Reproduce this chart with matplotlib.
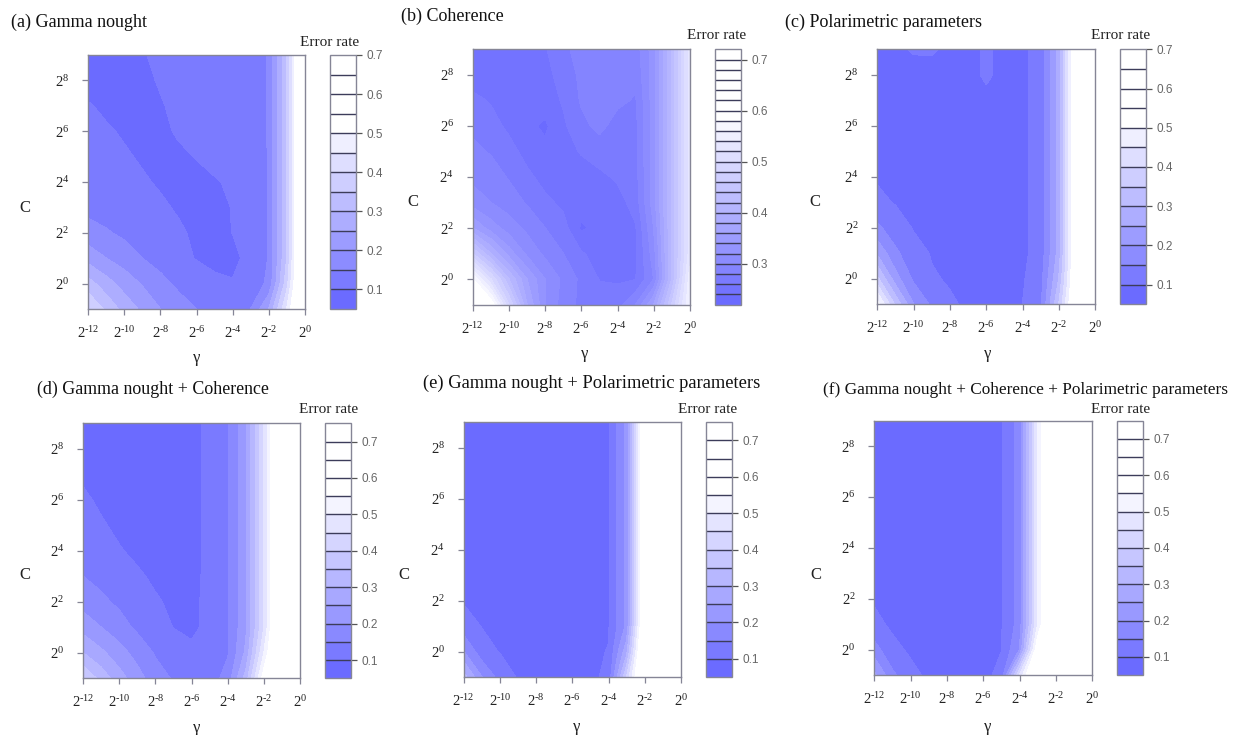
import matplotlib
matplotlib.use("Agg")
import matplotlib.pyplot as plt
import numpy as np

plt.rcParams['font.family'] = ['Liberation Serif', 'DejaVu Serif']
plt.rcParams['mathtext.fontset'] = 'custom'
plt.rcParams['mathtext.rm'] = 'Liberation Serif'
plt.rcParams['mathtext.it'] = 'Liberation Serif:italic'

# ---------------- data ----------------
gamma_exp = [-12, -11, -10, -9, -8, -7, -6, -5, -4, -3, -2, -1, 0]   # log2(gamma)
cost_exp = [-1, 0, 1, 2, 3, 4, 5, 6, 7, 8, 9]                        # log2(C)

# error rate, rows = cost_exp (bottom -> top), columns = gamma_exp
err_a = [
    [0.40, 0.34, 0.28, 0.24, 0.20, 0.17, 0.15, 0.135, 0.128, 0.15, 0.25, 0.45, 0.68],
    [0.32, 0.27, 0.23, 0.195, 0.165, 0.14, 0.12, 0.108, 0.103, 0.118, 0.16, 0.38, 0.68],
    [0.23, 0.20, 0.175, 0.15, 0.13, 0.11, 0.098, 0.09, 0.088, 0.115, 0.152, 0.35, 0.68],
    [0.17, 0.155, 0.14, 0.127, 0.115, 0.104, 0.095, 0.091, 0.1005, 0.12, 0.152, 0.35, 0.68],
    [0.135, 0.127, 0.12, 0.112, 0.104, 0.097, 0.093, 0.092, 0.101, 0.122, 0.152, 0.35, 0.68],
    [0.12, 0.116, 0.11, 0.103, 0.097, 0.094, 0.093, 0.097, 0.105, 0.125, 0.152, 0.35, 0.68],
    [0.115, 0.11, 0.103, 0.097, 0.093, 0.095, 0.101, 0.11, 0.12, 0.128, 0.152, 0.35, 0.68],
    [0.108, 0.103, 0.097, 0.092, 0.094, 0.103, 0.113, 0.12, 0.125, 0.13, 0.152, 0.35, 0.68],
    [0.102, 0.095, 0.09, 0.09, 0.097, 0.108, 0.118, 0.124, 0.127, 0.13, 0.152, 0.35, 0.68],
    [0.09, 0.088, 0.088, 0.092, 0.103, 0.115, 0.122, 0.126, 0.128, 0.132, 0.152, 0.35, 0.68],
    [0.085, 0.088, 0.092, 0.097, 0.108, 0.118, 0.125, 0.128, 0.13, 0.135, 0.152, 0.35, 0.68],
]

err_b = [
    [0.68, 0.60, 0.48, 0.38, 0.32, 0.29, 0.275, 0.27, 0.272, 0.30, 0.36, 0.46, 0.56],
    [0.58, 0.50, 0.42, 0.36, 0.32, 0.295, 0.275, 0.259, 0.257, 0.259, 0.30, 0.42, 0.55],
    [0.46, 0.40, 0.35, 0.315, 0.295, 0.28, 0.262, 0.252, 0.25, 0.256, 0.31, 0.42, 0.53],
    [0.36, 0.33, 0.31, 0.295, 0.28, 0.268, 0.236, 0.248, 0.25, 0.258, 0.32, 0.42, 0.53],
    [0.31, 0.30, 0.29, 0.278, 0.265, 0.255, 0.25, 0.248, 0.252, 0.268, 0.33, 0.42, 0.53],
    [0.295, 0.29, 0.278, 0.265, 0.252, 0.248, 0.248, 0.255, 0.263, 0.272, 0.33, 0.42, 0.53],
    [0.285, 0.278, 0.268, 0.252, 0.245, 0.25, 0.262, 0.27, 0.27, 0.274, 0.33, 0.42, 0.53],
    [0.275, 0.268, 0.255, 0.245, 0.236, 0.256, 0.275, 0.285, 0.272, 0.274, 0.33, 0.42, 0.53],
    [0.265, 0.258, 0.25, 0.248, 0.25, 0.262, 0.282, 0.29, 0.284, 0.278, 0.33, 0.42, 0.53],
    [0.25, 0.248, 0.248, 0.25, 0.255, 0.266, 0.285, 0.29, 0.288, 0.285, 0.33, 0.42, 0.53],
    [0.25, 0.25, 0.25, 0.252, 0.258, 0.275, 0.288, 0.29, 0.29, 0.29, 0.33, 0.42, 0.53],
]

err_c = [
    [0.52, 0.34, 0.20, 0.14, 0.105, 0.094, 0.09, 0.09, 0.10, 0.14, 0.35, 0.62, 0.69],
    [0.36, 0.22, 0.14, 0.104, 0.096, 0.09, 0.088, 0.088, 0.095, 0.13, 0.30, 0.60, 0.69],
    [0.24, 0.16, 0.115, 0.097, 0.09, 0.088, 0.087, 0.087, 0.09, 0.12, 0.27, 0.60, 0.69],
    [0.16, 0.12, 0.097, 0.09, 0.088, 0.087, 0.087, 0.087, 0.09, 0.12, 0.27, 0.60, 0.69],
    [0.11, 0.097, 0.09, 0.088, 0.087, 0.087, 0.087, 0.087, 0.09, 0.12, 0.27, 0.60, 0.69],
    [0.095, 0.09, 0.088, 0.087, 0.087, 0.087, 0.087, 0.087, 0.09, 0.12, 0.27, 0.60, 0.69],
    [0.09, 0.088, 0.087, 0.087, 0.087, 0.087, 0.088, 0.087, 0.09, 0.12, 0.27, 0.60, 0.69],
    [0.09, 0.088, 0.087, 0.087, 0.087, 0.087, 0.088, 0.087, 0.09, 0.12, 0.27, 0.60, 0.69],
    [0.09, 0.088, 0.087, 0.087, 0.087, 0.087, 0.09, 0.087, 0.09, 0.12, 0.27, 0.60, 0.69],
    [0.09, 0.088, 0.088, 0.088, 0.087, 0.087, 0.106, 0.088, 0.09, 0.12, 0.27, 0.60, 0.69],
    [0.09, 0.092, 0.103, 0.104, 0.092, 0.088, 0.105, 0.09, 0.09, 0.12, 0.27, 0.60, 0.69],
]

err_d = [
    [0.40, 0.33, 0.27, 0.22, 0.17, 0.145, 0.13, 0.125, 0.17, 0.32, 0.58, 0.74, 0.74],
    [0.30, 0.26, 0.22, 0.18, 0.145, 0.12, 0.104, 0.112, 0.145, 0.26, 0.50, 0.73, 0.74],
    [0.23, 0.20, 0.17, 0.14, 0.115, 0.099, 0.096, 0.105, 0.145, 0.24, 0.45, 0.72, 0.74],
    [0.18, 0.16, 0.14, 0.12, 0.103, 0.095, 0.093, 0.108, 0.145, 0.24, 0.45, 0.72, 0.74],
    [0.15, 0.135, 0.12, 0.104, 0.095, 0.092, 0.091, 0.108, 0.145, 0.24, 0.45, 0.72, 0.74],
    [0.125, 0.115, 0.102, 0.094, 0.091, 0.09, 0.09, 0.108, 0.145, 0.24, 0.45, 0.72, 0.74],
    [0.115, 0.103, 0.094, 0.091, 0.09, 0.09, 0.09, 0.108, 0.145, 0.24, 0.45, 0.72, 0.74],
    [0.105, 0.095, 0.091, 0.09, 0.09, 0.09, 0.09, 0.108, 0.145, 0.24, 0.45, 0.72, 0.74],
    [0.095, 0.09, 0.09, 0.09, 0.09, 0.09, 0.09, 0.108, 0.145, 0.24, 0.45, 0.72, 0.74],
    [0.092, 0.09, 0.09, 0.09, 0.09, 0.09, 0.09, 0.108, 0.145, 0.24, 0.45, 0.72, 0.74],
    [0.09, 0.09, 0.09, 0.09, 0.09, 0.09, 0.09, 0.108, 0.145, 0.24, 0.45, 0.72, 0.74],
]

err_e = [
    [0.32, 0.20, 0.13, 0.095, 0.088, 0.087, 0.087, 0.09, 0.11, 0.40, 0.72, 0.74, 0.74],
    [0.20, 0.12, 0.097, 0.09, 0.087, 0.087, 0.087, 0.09, 0.102, 0.28, 0.70, 0.74, 0.74],
    [0.12, 0.098, 0.09, 0.088, 0.087, 0.087, 0.087, 0.088, 0.095, 0.21, 0.66, 0.74, 0.74],
    [0.096, 0.09, 0.088, 0.087, 0.087, 0.087, 0.087, 0.088, 0.095, 0.21, 0.64, 0.74, 0.74],
    [0.095, 0.09, 0.088, 0.087, 0.087, 0.087, 0.087, 0.088, 0.095, 0.21, 0.64, 0.74, 0.74],
    [0.095, 0.09, 0.088, 0.087, 0.087, 0.087, 0.087, 0.088, 0.095, 0.21, 0.64, 0.74, 0.74],
    [0.095, 0.09, 0.088, 0.087, 0.087, 0.087, 0.087, 0.088, 0.095, 0.21, 0.64, 0.74, 0.74],
    [0.095, 0.09, 0.088, 0.087, 0.087, 0.087, 0.087, 0.088, 0.095, 0.21, 0.64, 0.74, 0.74],
    [0.095, 0.09, 0.088, 0.087, 0.087, 0.087, 0.087, 0.088, 0.095, 0.21, 0.64, 0.74, 0.74],
    [0.095, 0.09, 0.088, 0.087, 0.087, 0.087, 0.087, 0.088, 0.095, 0.21, 0.64, 0.74, 0.74],
    [0.095, 0.09, 0.088, 0.087, 0.087, 0.087, 0.087, 0.088, 0.095, 0.21, 0.64, 0.74, 0.74],
]

err_f = [
    [0.26, 0.16, 0.11, 0.093, 0.088, 0.087, 0.09, 0.11, 0.45, 0.72, 0.74, 0.74, 0.74],
    [0.17, 0.11, 0.094, 0.089, 0.087, 0.087, 0.088, 0.099, 0.20, 0.60, 0.74, 0.74, 0.74],
    [0.11, 0.093, 0.089, 0.088, 0.087, 0.087, 0.088, 0.096, 0.17, 0.50, 0.74, 0.74, 0.74],
    [0.095, 0.09, 0.088, 0.087, 0.087, 0.087, 0.088, 0.096, 0.17, 0.50, 0.74, 0.74, 0.74],
    [0.095, 0.09, 0.088, 0.087, 0.087, 0.087, 0.088, 0.096, 0.17, 0.50, 0.74, 0.74, 0.74],
    [0.095, 0.09, 0.088, 0.087, 0.087, 0.087, 0.088, 0.096, 0.17, 0.50, 0.74, 0.74, 0.74],
    [0.095, 0.09, 0.088, 0.087, 0.087, 0.087, 0.088, 0.096, 0.17, 0.50, 0.74, 0.74, 0.74],
    [0.095, 0.09, 0.088, 0.087, 0.087, 0.087, 0.088, 0.096, 0.17, 0.50, 0.74, 0.74, 0.74],
    [0.095, 0.09, 0.088, 0.087, 0.087, 0.087, 0.088, 0.096, 0.17, 0.50, 0.74, 0.74, 0.74],
    [0.095, 0.09, 0.088, 0.087, 0.087, 0.087, 0.088, 0.096, 0.17, 0.50, 0.74, 0.74, 0.74],
    [0.095, 0.09, 0.088, 0.087, 0.087, 0.087, 0.088, 0.096, 0.17, 0.50, 0.74, 0.74, 0.74],
]

titles = ["(a) Gamma nought", "(b) Coherence", "(c) Polarimetric parameters",
          "(d) Gamma nought + Coherence", "(e) Gamma nought + Polarimetric parameters",
          "(f) Gamma nought + Coherence + Polarimetric parameters"]

levels_a = [0.05, 0.70, 0.05]
levels_b = [0.22, 0.72, 0.02]
levels_def = [0.05, 0.75, 0.05]
cb_ticks_a = [0.1, 0.2, 0.3, 0.4, 0.5, 0.6, 0.7]
cb_ticks_b = [0.3, 0.4, 0.5, 0.6, 0.7]

x_tick_exp = [-12, -10, -8, -6, -4, -2, 0]
y_tick_exp = [0, 2, 4, 6, 8]

# ---------------- layout (pixels) ----------------
W, H = 1237, 735
fig = plt.figure(figsize=(W / 100, H / 100), dpi=100)


def rect(x0, y0, x1, y1):
    return [x0 / W, 1 - y1 / H, (x1 - x0) / W, (y1 - y0) / H]


def ftxt(x, y, s, **kw):
    fig.text(x / W, 1 - y / H, s, **kw)


def pow2(e):
    return r'$2^{\text{%d}}$' % e


BASE = np.array([107, 107, 255]) / 255.0
WHITE = np.ones(3)


def band_colors(n, frac=0.75):
    cols = []
    for k in range(n):
        t = min(1.0, (k / (n - 1)) / frac)
        cols.append(tuple(BASE + (WHITE - BASE) * t))
    return cols


panels = [
    dict(z=err_a, lev=levels_a, ticks=cb_ticks_a, tsize=13,
         ax=(88, 55, 305, 309), cb=(330, 55, 355.7, 309),
         title=(11, 27), err=(330, 46), clab=(25, 208), glab=(197, 358)),
    dict(z=err_b, lev=levels_b, ticks=cb_ticks_b, tsize=13,
         ax=(472.7, 49.3, 690, 304.7), cb=(715, 49.3, 740.7, 304.7),
         title=(401, 21), err=(717, 39), clab=(413, 202), glab=(585, 354)),
    dict(z=err_c, lev=levels_a, ticks=cb_ticks_a, tsize=13,
         ax=(877.3, 49.3, 1095.3, 304.3), cb=(1120, 49.3, 1145.7, 304.3),
         title=(785, 27), err=(1120.5, 39), clab=(815, 202), glab=(988, 354)),
    dict(z=err_d, lev=levels_def, ticks=cb_ticks_a, tsize=12.9,
         ax=(83, 423.3, 300.3, 678.3), cb=(325, 423.3, 350.7, 678.3),
         title=(37, 394), err=(329, 412.7), clab=(25, 575), glab=(197, 728)),
    dict(z=err_e, lev=levels_def, ticks=cb_ticks_a, tsize=13.3,
         ax=(463.7, 422.3, 681, 677), cb=(706, 422.3, 731.7, 677),
         title=(423, 387.5), err=(708, 412.7), clab=(404, 575), glab=(577, 727)),
    dict(z=err_f, lev=levels_def, ticks=cb_ticks_a, tsize=12.4,
         ax=(874.3, 420.7, 1092.3, 675), cb=(1117, 420.7, 1142.7, 675),
         title=(823, 394), err=(1121, 412.7), clab=(815.5, 575), glab=(988, 727)),
]

SPINE = '#858596'

for p, title in zip(panels, titles):
    lo, hi, st = p['lev']
    levels = np.round(np.arange(lo, hi + st / 2, st), 4)
    cols = band_colors(len(levels) - 1)

    ax = fig.add_axes(rect(*p['ax']))
    cs = ax.contourf(gamma_exp, cost_exp, np.array(p['z']), levels=levels, colors=cols)
    cs.set_edgecolor('face')
    cs.set_linewidth(0.4)
    ax.set_xlim(-12, 0)
    ax.set_ylim(-1, 9)
    ax.set_xticks(x_tick_exp)
    ax.set_xticklabels([pow2(e) for e in x_tick_exp])
    ax.set_yticks(y_tick_exp)
    ax.set_yticklabels([pow2(e) for e in y_tick_exp])
    ax.tick_params(axis='both', direction='out', length=4.5, width=0.9,
                   color=SPINE, labelsize=10.5, labelcolor='#222222')
    ax.tick_params(axis='x', pad=7)
    ax.tick_params(axis='y', pad=9)
    for s in ax.spines.values():
        s.set_edgecolor(SPINE)
        s.set_linewidth(1.0)

    cax = fig.add_axes(rect(*p['cb']))
    cb = fig.colorbar(cs, cax=cax, ticks=p['ticks'], drawedges=True)
    cb.dividers.set_color('#3c3c5a')
    cb.dividers.set_linewidth(1.0)
    cb.outline.set_edgecolor(SPINE)
    cb.outline.set_linewidth(1.0)
    cax.set_yticklabels(['%.1f' % t for t in p['ticks']])
    cax.tick_params(axis='y', direction='out', length=4.5, width=0.9,
                    color='#555555', labelsize=8.5, labelcolor='#666666', pad=3)
    for lbl in cax.get_yticklabels():
        lbl.set_family(['Liberation Sans', 'DejaVu Sans'])

    tx, ty = p['title']
    ftxt(tx, ty, title, fontsize=p['tsize'], ha='left', va='baseline', color='#111111')
    ex, ey = p['err']
    ftxt(ex, ey, 'Error rate', fontsize=11, ha='center', va='baseline', color='#222222')
    cx, cy = p['clab']
    ftxt(cx, cy, 'C', fontsize=12, ha='center', va='center', color='#222222')
    gx, gy = p['glab']
    ftxt(gx, gy, 'γ', fontsize=12, ha='center', va='center', color='#222222')

fig.savefig('out.png', dpi=100)
